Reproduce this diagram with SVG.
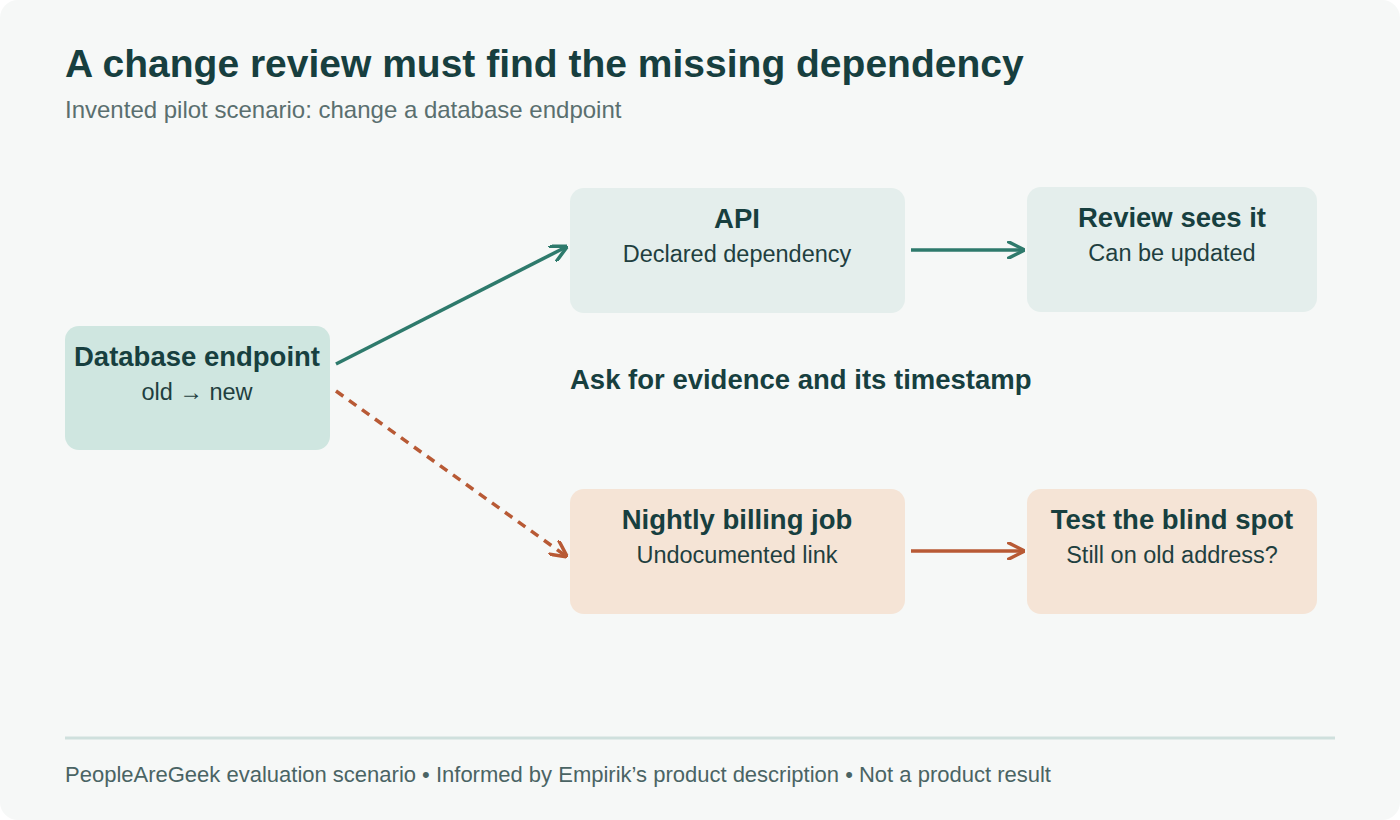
<svg xmlns="http://www.w3.org/2000/svg" width="1400" height="820" viewBox="0 0 1400 820">
<style>
text{font-family:"Liberation Sans",Arial,sans-serif}
.t{font-size:27.5px;font-weight:700;fill:#173f3f;text-anchor:middle}
.s{font-size:23.5px;fill:#1f3f3f;text-anchor:middle}
.g{stroke:#2e7a6c;stroke-width:3.5;fill:none}
.o{stroke:#b85a35;stroke-width:3.5;fill:none}
</style>
<defs>
<marker id="ag" viewBox="0 0 10 10" refX="9" refY="5" markerWidth="5" markerHeight="5" orient="auto"><path d="M0,0L10,5L0,10" fill="none" stroke="#2e7a6c" stroke-width="2"/></marker>
<marker id="ao" viewBox="0 0 10 10" refX="9" refY="5" markerWidth="5" markerHeight="5" orient="auto"><path d="M0,0L10,5L0,10" fill="none" stroke="#b85a35" stroke-width="2"/></marker>
</defs>
<rect width="1400" height="820" rx="18" fill="#f6f8f7"/>
<text x="65" y="77" style="font-size:39px;font-weight:700;fill:#173f3f">A change review must find the missing dependency</text>
<text x="65" y="118" style="font-size:24px;fill:#5a6f6f">Invented pilot scenario: change a database endpoint</text>
<g id="db"><rect x="65" y="326" width="265" height="124" rx="14" fill="#cfe6e0"/><text class="t" x="197" y="366">Database endpoint</text><text class="s" x="197" y="400">old → new</text></g>
<g id="api"><rect x="570" y="188" width="335" height="125" rx="14" fill="#e4eeec"/><text class="t" x="737" y="228">API</text><text class="s" x="737" y="262">Declared dependency</text></g>
<g id="review"><rect x="1027" y="187" width="290" height="125" rx="14" fill="#e4eeec"/><text class="t" x="1172" y="227">Review sees it</text><text class="s" x="1172" y="261">Can be updated</text></g>
<g id="billing"><rect x="570" y="489" width="335" height="125" rx="14" fill="#f5e4d6"/><text class="t" x="737" y="529">Nightly billing job</text><text class="s" x="737" y="563">Undocumented link</text></g>
<g id="test"><rect x="1027" y="489" width="290" height="125" rx="14" fill="#f5e4d6"/><text class="t" x="1172" y="529">Test the blind spot</text><text class="s" x="1172" y="563">Still on old address?</text></g>
<text x="570" y="389" style="font-size:27.5px;font-weight:700;fill:#173f3f">Ask for evidence and its timestamp</text>
<g id="connectors">
<path class="g" d="M336,364L566,247" marker-end="url(#ag)"/>
<path class="g" d="M911,250L1023,250" marker-end="url(#ag)"/>
<path class="o" d="M336,391L566,556" stroke-dasharray="9,7" marker-end="url(#ao)"/>
<path class="o" d="M911,551L1023,551" marker-end="url(#ao)"/>
</g>
<line x1="65" y1="738" x2="1335" y2="738" stroke="#cfe0dd" stroke-width="3"/>
<text x="65" y="782" style="font-size:22px;fill:#4a6464">PeopleAreGeek evaluation scenario • Informed by Empirik’s product description • Not a product result</text>
</svg>
